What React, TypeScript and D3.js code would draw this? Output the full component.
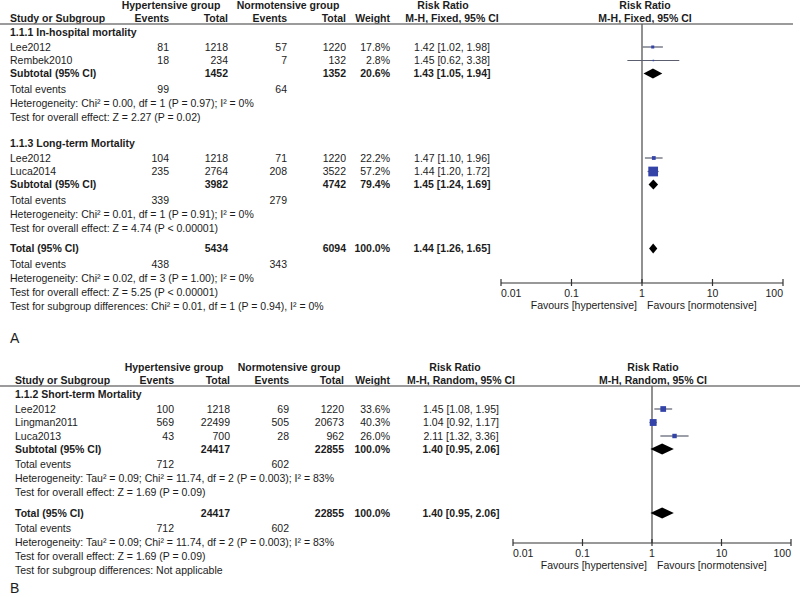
import React from "react";
import * as d3 from "d3";

// ---------- Panel A data ----------
const aGroupTitles = ["1.1.1 In-hospital mortality", "1.1.3 Long-term Mortality"];
const aStudyNames = ["Lee2012", "Rembek2010", "Lee2012", "Luca2014"];
const aStudyGroup = [0, 0, 1, 1];
const aHypEvents = [81, 18, 104, 235];
const aHypTotal = [1218, 234, 1218, 2764];
const aNormEvents = [57, 7, 71, 208];
const aNormTotal = [1220, 132, 1220, 3522];
const aWeight = [17.8, 2.8, 22.2, 57.2];
const aRR = [1.42, 1.45, 1.47, 1.44];
const aLo = [1.02, 0.62, 1.1, 1.2];
const aHi = [1.98, 3.38, 1.96, 1.72];
const aSubHypEvents = [99, 339];
const aSubNormEvents = [64, 279];
const aSubHypTotal = [1452, 3982];
const aSubNormTotal = [1352, 4742];
const aSubWeight = [20.6, 79.4];
const aSubRR = [1.43, 1.45];
const aSubLo = [1.05, 1.24];
const aSubHi = [1.94, 1.69];
const aSubNotes = [
  ["Heterogeneity: Chi² = 0.00, df = 1 (P = 0.97); I² = 0%", "Test for overall effect: Z = 2.27 (P = 0.02)"],
  ["Heterogeneity: Chi² = 0.01, df = 1 (P = 0.91); I² = 0%", "Test for overall effect: Z = 4.74 (P < 0.00001)"],
];
const aTotalNums = [438, 5434, 343, 6094]; // hyp events, hyp total, norm events, norm total
const aTotalWeight = 100.0;
const aTotalCI = [1.44, 1.26, 1.65];
const aTotalNotes = [
  "Heterogeneity: Chi² = 0.02, df = 3 (P = 1.00); I² = 0%",
  "Test for overall effect: Z = 5.25 (P < 0.00001)",
  "Test for subgroup differences: Chi² = 0.01, df = 1 (P = 0.94), I² = 0%",
];

// ---------- Panel B data ----------
const bGroupTitles = ["1.1.2 Short-term Mortality"];
const bStudyNames = ["Lee2012", "Lingman2011", "Luca2013"];
const bStudyGroup = [0, 0, 0];
const bHypEvents = [100, 569, 43];
const bHypTotal = [1218, 22499, 700];
const bNormEvents = [69, 505, 28];
const bNormTotal = [1220, 20673, 962];
const bWeight = [33.6, 40.3, 26.0];
const bRR = [1.45, 1.04, 2.11];
const bLo = [1.08, 0.92, 1.32];
const bHi = [1.95, 1.17, 3.36];
const bSubHypEvents = [712];
const bSubNormEvents = [602];
const bSubHypTotal = [24417];
const bSubNormTotal = [22855];
const bSubWeight = [100.0];
const bSubRR = [1.4];
const bSubLo = [0.95];
const bSubHi = [2.06];
const bSubNotes = [
  ["Heterogeneity: Tau² = 0.09; Chi² = 11.74, df = 2 (P = 0.003); I² = 83%", "Test for overall effect: Z = 1.69 (P = 0.09)"],
];
const bTotalNums = [712, 24417, 602, 22855];
const bTotalWeight = 100.0;
const bTotalCI = [1.4, 0.95, 2.06];
const bTotalNotes = [
  "Heterogeneity: Tau² = 0.09; Chi² = 11.74, df = 2 (P = 0.003); I² = 83%",
  "Test for overall effect: Z = 1.69 (P = 0.09)",
  "Test for subgroup differences: Not applicable",
];

const axisTicks = [0.01, 0.1, 1, 10, 100];
const axisTickLabels = ["0.01", "0.1", "1", "10", "100"];

// ---------- helpers ----------
type Row = any;

function buildRows(d: any): Row[] {
  const rows: Row[] = [];
  d.titles.forEach((title: string, g: number) => {
    rows.push({ kind: "title", text: title });
    d.names.forEach((name: string, i: number) => {
      if (d.group[i] !== g) return;
      rows.push({
        kind: "study", text: name,
        evH: d.evH[i], totH: d.totH[i], evN: d.evN[i], totN: d.totN[i],
        w: d.w[i], rr: d.rr[i], lo: d.lo[i], hi: d.hi[i],
      });
    });
    rows.push({
      kind: "subtotal", text: "Subtotal (95% CI)",
      totH: d.sTotH[g], totN: d.sTotN[g], w: d.sW[g], rr: d.sRR[g], lo: d.sLo[g], hi: d.sHi[g],
    });
    rows.push({ kind: "events", text: "Total events", evH: d.sEvH[g], evN: d.sEvN[g] });
    d.sNotes[g].forEach((t: string) => rows.push({ kind: "note", text: t }));
  });
  rows.push({
    kind: "total", text: "Total (95% CI)",
    totH: d.tNums[1], totN: d.tNums[3], w: d.tW, rr: d.tCI[0], lo: d.tCI[1], hi: d.tCI[2],
  });
  rows.push({ kind: "events", text: "Total events", evH: d.tNums[0], evN: d.tNums[2] });
  d.tNotes.forEach((t: string) => rows.push({ kind: "note", text: t }));
  return rows;
}

function gapFor(kind: string, prev: string | null): number {
  if (kind === "title") return prev === null ? 8 : 26;
  if (kind === "study") return prev === "title" ? 15 : 13.5;
  if (kind === "subtotal") return 13;
  if (kind === "events") return 15.5;
  if (kind === "note") return 14;
  if (kind === "total") return 20.5;
  return 14;
}

const FONT = "'Liberation Sans', Arial, Helvetica, sans-serif";
const FS = 10.5;
const TXT = "#1c1c1c";
const BASE = 3.8; // baseline offset from row centre

const fmtCI = (rr: number, lo: number, hi: number) =>
  `${rr.toFixed(2)} [${lo.toFixed(2)}, ${hi.toFixed(2)}]`;
const fmtW = (w: number) => `${w.toFixed(1)}%`;

function Panel({ data, L }: { data: any; L: any }) {
  const rows = buildRows(data);
  let y = L.top + 24;
  let prev: string | null = null;
  rows.forEach((r) => {
    y += gapFor(r.kind, prev);
    r.y = y;
    prev = r.kind;
  });

  const x = d3.scaleLog().domain([0.01, 100]).range([L.plotL, L.plotR]);
  const side = d3.scaleLinear().domain([0, 100]).range([0, 17]);
  const lineY = L.top + 24;
  const axisY = L.top + L.axisOff;
  const refX = x(1);

  const T = (props: any) => (
    <text fontFamily={FONT} fontSize={FS} fill={TXT} {...props} />
  );

  const diamond = (r: Row, h: number) => {
    const cy = r.y;
    const pts = [
      [x(r.lo), cy], [x(r.rr), cy - h / 2], [x(r.hi), cy], [x(r.rr), cy + h / 2],
    ];
    return <polygon points={pts.map((p) => p.join(",")).join(" ")} fill="#000" />;
  };

  return (
    <g>
      {/* headers */}
      <T x={L.hypC} y={L.top + 5 + BASE} textAnchor="middle" fontWeight="bold">Hypertensive group</T>
      <T x={L.normC} y={L.top + 5 + BASE} textAnchor="middle" fontWeight="bold">Normotensive group</T>
      <T x={L.rrTextC} y={L.top + 5 + BASE} textAnchor="middle" fontWeight="bold">Risk Ratio</T>
      <T x={L.rrC} y={L.top + 5 + BASE} textAnchor="middle" fontWeight="bold">Risk Ratio</T>
      <T x={L.textX} y={L.top + 18 + BASE} fontWeight="bold">Study or Subgroup</T>
      <T x={L.evH} y={L.top + 18 + BASE} textAnchor="end" fontWeight="bold">Events</T>
      <T x={L.totH} y={L.top + 18 + BASE} textAnchor="end" fontWeight="bold">Total</T>
      <T x={L.evN} y={L.top + 18 + BASE} textAnchor="end" fontWeight="bold">Events</T>
      <T x={L.totN} y={L.top + 18 + BASE} textAnchor="end" fontWeight="bold">Total</T>
      <T x={L.w} y={L.top + 18 + BASE} textAnchor="end" fontWeight="bold">Weight</T>
      <T x={L.ciC} y={L.top + 18 + BASE} textAnchor="middle" fontWeight="bold">{L.model}</T>
      <T x={L.rrC} y={L.top + 18 + BASE} textAnchor="middle" fontWeight="bold">{L.model}</T>
      <line x1={0} x2={L.lineR} y1={lineY} y2={lineY} stroke="#7a7a7a" strokeWidth={1.5} />

      {/* reference line */}
      <line x1={refX} x2={refX} y1={lineY} y2={axisY} stroke="#555" strokeWidth={1.3} />

      {/* rows */}
      {rows.map((r, i) => {
        const by = r.y + BASE;
        const bold = r.kind === "title" || r.kind === "subtotal" || r.kind === "total";
        const fw = bold ? "bold" : "normal";
        const els: any[] = [];
        els.push(<T key="t" x={L.textX} y={by} fontWeight={fw}>{r.text}</T>);
        if (r.kind === "study" || r.kind === "events") {
          els.push(<T key="eh" x={L.evH} y={by} textAnchor="end">{r.evH}</T>);
          els.push(<T key="en" x={L.evN} y={by} textAnchor="end">{r.evN}</T>);
        }
        if (r.kind === "study" || r.kind === "subtotal" || r.kind === "total") {
          els.push(<T key="th" x={L.totH} y={by} textAnchor="end" fontWeight={fw}>{r.totH}</T>);
          els.push(<T key="tn" x={L.totN} y={by} textAnchor="end" fontWeight={fw}>{r.totN}</T>);
          els.push(<T key="w" x={L.w} y={by} textAnchor="end" fontWeight={fw}>{fmtW(r.w)}</T>);
          els.push(<T key="ci" x={L.ciC} y={by} textAnchor="middle" fontWeight={fw}>{fmtCI(r.rr, r.lo, r.hi)}</T>);
        }
        if (r.kind === "study") {
          const s = Math.max(1.5, side(r.w));
          els.push(<line key="cl" x1={x(r.lo)} x2={x(r.hi)} y1={r.y} y2={r.y} stroke="#5a5e6e" strokeWidth={1.2} />);
          els.push(<rect key="sq" x={x(r.rr) - s / 2} y={r.y - s / 2} width={s} height={s} fill="#3343a8" />);
        }
        if (r.kind === "subtotal" || r.kind === "total") {
          els.push(<g key="dm">{diamond(r, L.diamondH)}</g>);
        }
        return <g key={i}>{els}</g>;
      })}

      {/* axis */}
      <line x1={L.plotL} x2={L.plotR} y1={axisY} y2={axisY} stroke="#333" strokeWidth={1.2} />
      {axisTicks.map((t, i) => (
        <g key={i}>
          <line x1={x(t)} x2={x(t)} y1={axisY - 4} y2={axisY + 3} stroke="#333" strokeWidth={1.2} />
          <T
            x={x(t)}
            y={axisY + 10 + BASE}
            textAnchor={i === 0 ? "start" : i === axisTicks.length - 1 ? "end" : "middle"}
          >
            {axisTickLabels[i]}
          </T>
        </g>
      ))}
      <T x={refX - 5} y={axisY + 22 + BASE} textAnchor="end">Favours [hypertensive]</T>
      <T x={refX + 5} y={axisY + 22 + BASE} textAnchor="start">Favours [normotensive]</T>

      <text x={L.letterX} y={L.letterY} fontFamily={FONT} fontSize={14} fill={TXT}>{L.letter}</text>
    </g>
  );
}

const dataA = {
  titles: aGroupTitles, names: aStudyNames, group: aStudyGroup,
  evH: aHypEvents, totH: aHypTotal, evN: aNormEvents, totN: aNormTotal,
  w: aWeight, rr: aRR, lo: aLo, hi: aHi,
  sEvH: aSubHypEvents, sEvN: aSubNormEvents, sTotH: aSubHypTotal, sTotN: aSubNormTotal,
  sW: aSubWeight, sRR: aSubRR, sLo: aSubLo, sHi: aSubHi, sNotes: aSubNotes,
  tNums: aTotalNums, tW: aTotalWeight, tCI: aTotalCI, tNotes: aTotalNotes,
};
const dataB = {
  titles: bGroupTitles, names: bStudyNames, group: bStudyGroup,
  evH: bHypEvents, totH: bHypTotal, evN: bNormEvents, totN: bNormTotal,
  w: bWeight, rr: bRR, lo: bLo, hi: bHi,
  sEvH: bSubHypEvents, sEvN: bSubNormEvents, sTotH: bSubHypTotal, sTotN: bSubNormTotal,
  sW: bSubWeight, sRR: bSubRR, sLo: bSubLo, sHi: bSubHi, sNotes: bSubNotes,
  tNums: bTotalNums, tW: bTotalWeight, tCI: bTotalCI, tNotes: bTotalNotes,
};

const layoutA = {
  top: 0, textX: 10, evH: 169, totH: 228, evN: 287, totN: 346, w: 390, ciC: 452, rrTextC: 443,
  hypC: 171, normC: 288, rrC: 645, model: "M-H, Fixed, 95% CI",
  plotL: 501, plotR: 783, lineR: 793, axisOff: 283, diamondH: 10,
  letter: "A", letterX: 10, letterY: 343,
};
const layoutB = {
  top: 362, textX: 15, evH: 174, totH: 230, evN: 289, totN: 344, w: 390, ciC: 461, rrTextC: 455,
  hypC: 174, normC: 289, rrC: 653, model: "M-H, Random, 95% CI",
  plotL: 513, plotR: 791, lineR: 800, axisOff: 181, diamondH: 11,
  letter: "B", letterX: 10, letterY: 593,
};

export default function App() {
  return (
    <svg
      width={800}
      height={597}
      style={{ position: "absolute", left: 0, top: 0, background: "#fff" }}
    >
      <rect width={800} height={597} fill="#fff" />
      <Panel data={dataA} L={layoutA} />
      <Panel data={dataB} L={layoutB} />
    </svg>
  );
}
